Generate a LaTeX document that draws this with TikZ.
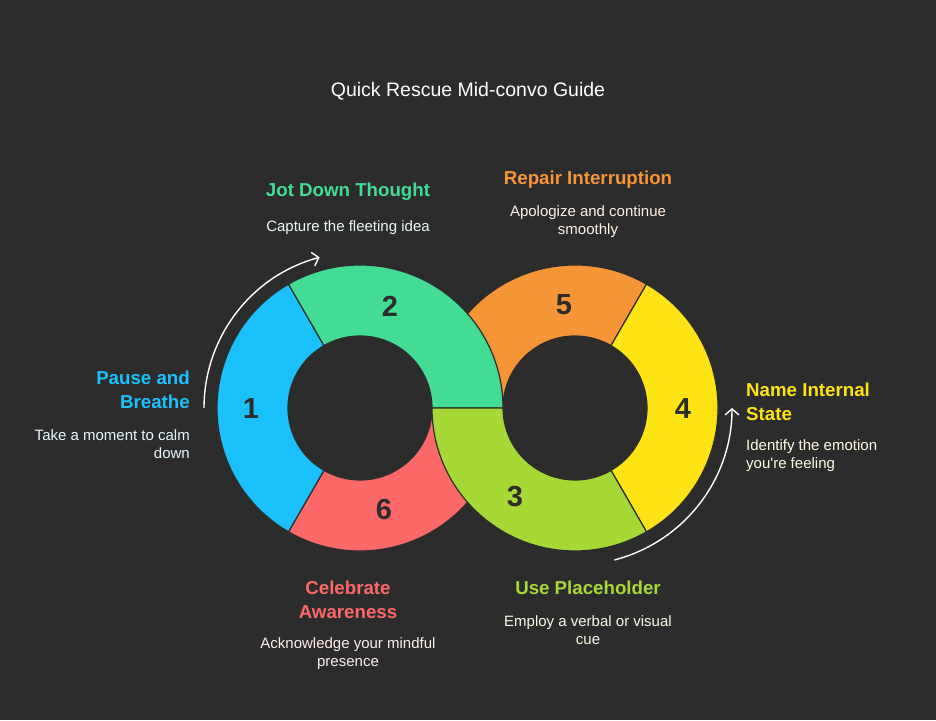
\documentclass[tikz,border=0pt]{standalone}
\usepackage{fontspec}
\setmainfont{Liberation Sans}
\usetikzlibrary{calc,arrows.meta}
\definecolor{bg}{HTML}{2C2C2C}
\definecolor{cblue}{HTML}{1BC1FC}
\definecolor{cgreen}{HTML}{42DC95}
\definecolor{corange}{HTML}{F69536}
\definecolor{cyellow}{HTML}{FFE415}
\definecolor{clime}{HTML}{A7D936}
\definecolor{cred}{HTML}{FD6868}
\newcommand\ringseg[4]{\filldraw[fill=#4, draw=bg, line width=1.2pt] ($(#1)+(#2:143)$) arc[start angle=#2, end angle=#3, radius=143] -- ($(#1)+(#3:72)$) arc[start angle=#3, end angle=#2, radius=72] -- cycle;}
\tikzset{
  num/.style={font=\fontsize{29}{30}\selectfont\bfseries, text=bg},
  head/.style={font=\fontsize{18.7}{24}\selectfont\bfseries, inner sep=0pt},
  desc/.style={font=\fontsize{15}{18}\selectfont, inner sep=0pt},
  flow/.style={draw=white, line width=1.4pt, -{Straight Barb[length=6pt,width=14pt,line width=1.4pt]}}
}
\begin{document}
\begin{tikzpicture}[x=1pt,y=1pt]
\fill[bg] (0,0) rectangle (936,720);
\useasboundingbox (0,0) rectangle (936,720);
\coordinate (L) at (360,312);
\coordinate (R) at (575,312);
% segments (underlying first)
\ringseg{L}{240}{360}{cred}
\ringseg{R}{60}{180}{corange}
\ringseg{L}{120}{240}{cblue}
\ringseg{R}{-60}{60}{cyellow}
\ringseg{L}{0}{120}{cgreen}
\ringseg{R}{180}{300}{clime}
% numbers
\node[num] (n1) at (251,311) {1};
\node[num] (n2) at (390,414) {2};
\node[num] (n6) at (384,210) {6};
\node[num] (n3) at (515,223) {3};
\node[num] (n5) at (564,415) {5};
\node[num] (n4) at (683,311) {4};
% flow arrows
\draw[flow] ($(L)+(180:156)$) arc[start angle=180, end angle=105, radius=156];
\draw[flow] ($(R)+(-75.5:157)$) arc[start angle=-75.5, end angle=0, radius=157];
% title
\node[font=\fontsize{19.5}{22}\selectfont, text=white] (title) at (468,629) {Quick Rescue Mid-convo Guide};
% labels
\node[head, text=cblue, anchor=east, align=right] (h1) at (190,330) {Pause and\\Breathe};
\node[desc, text=cblue!12!white, anchor=east, align=right] (d1) at (190,276) {Take a moment to calm\\down};
\node[head, text=cgreen, align=center] (h2) at (348,528) {Jot Down Thought};
\node[desc, text=cgreen!12!white, align=center] (d2) at (348,492) {Capture the fleeting idea};
\node[head, text=corange, align=center] (h5) at (588,540) {Repair Interruption};
\node[desc, text=corange!12!white, align=center] (d5) at (588,498) {Apologize and continue\\smoothly};
\node[head, text=cyellow, anchor=west, align=left] (h4) at (746,318) {Name Internal\\State};
\node[desc, text=cyellow!12!white, anchor=west, align=left] (d4) at (746,264) {Identify the emotion\\you\textquotesingle re feeling};
\node[head, text=cred, align=center] (h6) at (348,120) {Celebrate\\Awareness};
\node[desc, text=cred!12!white, align=center] (d6) at (348,66) {Acknowledge your mindful\\presence};
\node[head, text=clime, align=center] (h3) at (588,132) {Use Placeholder};
\node[desc, text=clime!12!white, align=center] (d3) at (588,90) {Employ a verbal or visual\\cue};
\end{tikzpicture}
\end{document}
